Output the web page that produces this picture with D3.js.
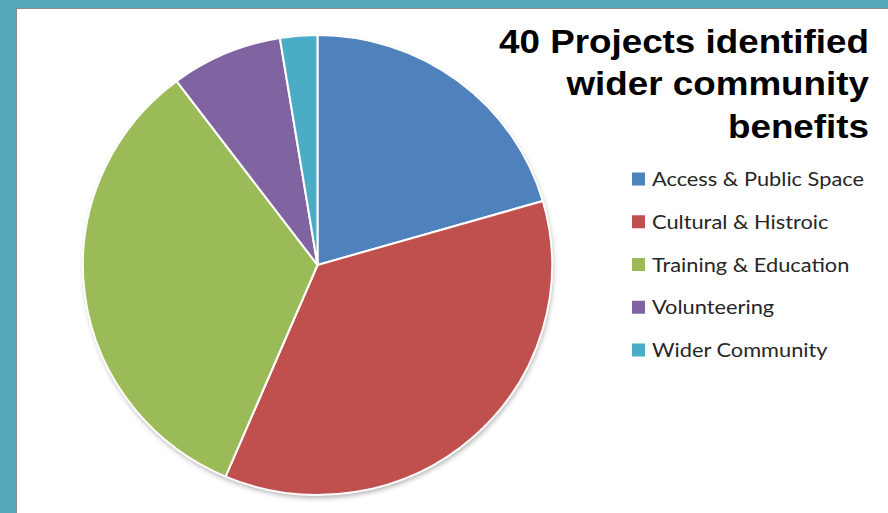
<!DOCTYPE html>
<html>
<head>
<meta charset="utf-8">
<script src="https://cdn.jsdelivr.net/npm/d3@7"></script>
<style>
  html, body { margin: 0; padding: 0; background: #fff; }
  svg { display: block; }
</style>
</head>
<body>
<script>
const width = 888;
const height = 513;

// Data
const categories = ["Access & Public Space", "Cultural & Histroic", "Training & Education", "Volunteering", "Wider Community"];
const counts = [8, 14, 13, 3, 1];
const colors = ["#4F81BD", "#C0504D", "#9BBB59", "#8064A2", "#4BACC6"];
const titleLines = ["40 Projects identified", "wider community", "benefits"];

const data = categories.map((c, i) => ({ name: c, value: counts[i] }));

const svg = d3.select("body")
  .append("svg")
  .attr("width", width)
  .attr("height", height)
  .attr("viewBox", [0, 0, width, height]);

// Slide frame: teal band top and left
svg.append("rect").attr("x", 0).attr("y", 0).attr("width", width).attr("height", height).attr("fill", "#fff");
svg.append("rect").attr("x", 0).attr("y", 0).attr("width", width).attr("height", 9).attr("fill", "#56A6BA");
svg.append("rect").attr("x", 0).attr("y", 0).attr("width", 16).attr("height", height).attr("fill", "#56A6BA");
svg.append("line").attr("x1", 16.5).attr("x2", 16.5).attr("y1", 8).attr("y2", height).attr("stroke", "#8a8a8a").attr("stroke-width", 1);
svg.append("line").attr("x1", 16).attr("x2", width).attr("y1", 8.5).attr("y2", 8.5).attr("stroke", "#8a8a8a").attr("stroke-width", 1);

// Shadow filter
const defs = svg.append("defs");
const f = defs.append("filter").attr("id", "shadow").attr("x", "-10%").attr("y", "-10%").attr("width", "120%").attr("height", "120%");
f.append("feDropShadow").attr("dx", 1).attr("dy", 3).attr("stdDeviation", 2.5).attr("flood-color", "#000").attr("flood-opacity", 0.3);

// Pie (slide is a little stretched sideways)
const cx = 317.5, cy = 265, r = 230;
const pie = d3.pie().value(d => d.value).sort(null);
const arc = d3.arc().innerRadius(0).outerRadius(r);
const color = d3.scaleOrdinal().domain(categories).range(colors);

const pieGroup = svg.append("g").attr("transform", `translate(${cx},${cy}) scale(1.02,1)`);

pieGroup.append("circle").attr("r", r).attr("fill", "#fff").attr("filter", "url(#shadow)");

pieGroup.selectAll(".slice")
  .data(pie(data))
  .enter()
  .append("path")
  .attr("class", "slice")
  .attr("d", arc)
  .attr("fill", d => color(d.data.name))
  .attr("stroke", "#fff")
  .attr("stroke-width", 2)
  .attr("stroke-linejoin", "round");

// Title
svg.append("g")
  .attr("transform", "translate(869,0) scale(1.115,1)")
  .append("text")
  .attr("text-anchor", "end")
  .attr("font-family", "Liberation Sans, Arial, sans-serif")
  .attr("font-weight", "bold")
  .attr("font-size", 33)
  .attr("fill", "#000")
  .selectAll("tspan")
  .data(titleLines)
  .enter()
  .append("tspan")
  .attr("x", 0)
  .attr("y", (d, i) => 53 + i * 42.5)
  .text(d => d);

// Legend
const legendY = d3.scalePoint().domain(categories).range([179, 350]);

const legend = svg.append("g").attr("class", "legend");
const item = legend.selectAll("g")
  .data(categories)
  .enter()
  .append("g")
  .attr("transform", d => `translate(632,${legendY(d)})`);

item.append("rect")
  .attr("x", 0)
  .attr("y", -6.5)
  .attr("width", 13)
  .attr("height", 13)
  .attr("fill", d => color(d));

item.append("text")
  .attr("transform", "translate(20,7) scale(1.09,1)")
  .attr("font-family", "Lato, Open Sans, sans-serif")
  .attr("font-size", 20)
  .attr("fill", "#262626")
  .text(d => d);
</script>
</body>
</html>
